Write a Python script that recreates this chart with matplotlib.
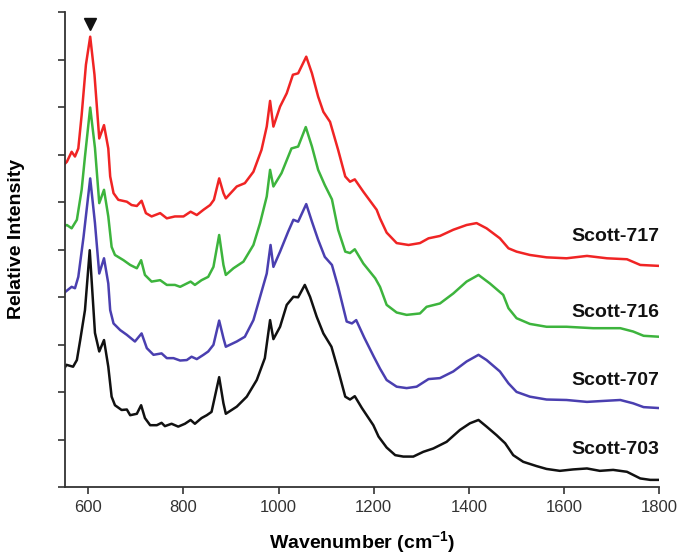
import matplotlib
matplotlib.use("Agg")
import matplotlib.pyplot as plt

plt.rcParams['font.family'] = ['Liberation Sans', 'DejaVu Sans']
plt.rcParams['mathtext.fontset'] = 'custom'
plt.rcParams['mathtext.rm'] = 'Liberation Sans'
plt.rcParams['mathtext.bf'] = 'Liberation Sans:bold'

# ---- data ----
wn_703 = [550, 554, 568, 576, 583, 593, 603, 614, 623, 633, 642, 649, 656, 670, 681, 688, 702, 711,
          719, 730, 744, 754, 761, 775, 789, 803, 815, 824, 838, 849, 859, 875, 884, 889, 912, 933,
          954, 971, 982, 989, 1003, 1017, 1031, 1041, 1055, 1066, 1080, 1094, 1111, 1125, 1140,
          1150, 1160, 1175, 1199, 1210, 1227, 1245, 1262, 1283, 1304, 1325, 1353, 1381, 1402, 1420,
          1437, 1458, 1476, 1493, 1514, 1542, 1563, 1591, 1619, 1648, 1675, 1703, 1732, 1760, 1781, 1800]
int_703 = [2.51, 2.58, 2.54, 2.68, 3.10, 3.73, 4.99, 3.25, 2.86, 3.10, 2.54, 1.91, 1.73, 1.63, 1.64,
           1.52, 1.55, 1.73, 1.46, 1.31, 1.31, 1.36, 1.29, 1.34, 1.28, 1.34, 1.42, 1.34, 1.46, 1.52,
           1.59, 2.32, 1.77, 1.55, 1.70, 1.91, 2.26, 2.72, 3.52, 3.12, 3.38, 3.84, 4.01, 4.00, 4.26,
           4.01, 3.59, 3.24, 2.96, 2.47, 1.91, 1.85, 1.92, 1.67, 1.31, 1.07, 0.84, 0.68, 0.65, 0.65,
           0.75, 0.82, 0.96, 1.21, 1.35, 1.42, 1.28, 1.10, 0.93, 0.68, 0.54, 0.45, 0.39, 0.35, 0.38,
           0.40, 0.35, 0.37, 0.33, 0.19, 0.16, 0.16]

wn_707 = [550, 565, 572, 579, 590, 604, 614, 623, 633, 642, 646, 653, 667, 681, 698, 712, 723, 737,
          754, 765, 779, 793, 807, 817, 828, 842, 852, 863, 875, 884, 889, 912, 929, 947, 961, 975,
          983, 989, 1003, 1020, 1031, 1041, 1058, 1070, 1083, 1097, 1112, 1125, 1143, 1154, 1163,
          1180, 1200, 1213, 1227, 1248, 1269, 1290, 1315, 1339, 1367, 1395, 1420, 1437, 1465, 1483,
          1500, 1528, 1563, 1605, 1648, 1682, 1718, 1745, 1767, 1800]
int_707 = [4.10, 4.22, 4.19, 4.43, 5.27, 6.50, 5.56, 4.50, 4.82, 4.29, 3.73, 3.45, 3.31, 3.21, 3.07,
           3.24, 2.93, 2.79, 2.82, 2.72, 2.72, 2.67, 2.68, 2.75, 2.70, 2.79, 2.86, 3.00, 3.51, 3.14,
           2.96, 3.07, 3.17, 3.52, 4.01, 4.50, 5.10, 4.64, 4.96, 5.38, 5.63, 5.59, 5.96, 5.59, 5.21,
           4.85, 4.68, 4.22, 3.49, 3.45, 3.52, 3.15, 2.75, 2.50, 2.26, 2.12, 2.09, 2.12, 2.28, 2.30,
           2.44, 2.65, 2.79, 2.68, 2.44, 2.19, 2.01, 1.91, 1.85, 1.84, 1.80, 1.82, 1.84, 1.77, 1.69, 1.67]

wn_716 = [550, 555, 565, 576, 586, 593, 604, 614, 623, 633, 642, 649, 656, 674, 688, 702, 711, 719,
          733, 751, 765, 782, 793, 807, 815, 824, 838, 852, 863, 875, 884, 889, 905, 926, 947, 961,
          975, 982, 989, 1006, 1027, 1041, 1057, 1070, 1083, 1097, 1112, 1125, 1140, 1150, 1160,
          1178, 1203, 1213, 1227, 1248, 1269, 1297, 1311, 1339, 1367, 1395, 1420, 1444, 1472, 1483,
          1500, 1528, 1563, 1605, 1661, 1718, 1745, 1767, 1800]
int_716 = [5.50, 5.52, 5.45, 5.63, 6.26, 6.96, 7.99, 7.14, 5.98, 6.26, 5.70, 5.06, 4.89, 4.78, 4.68,
           4.61, 4.78, 4.47, 4.33, 4.36, 4.26, 4.26, 4.22, 4.29, 4.33, 4.26, 4.36, 4.43, 4.64, 5.31,
           4.68, 4.47, 4.61, 4.75, 5.10, 5.56, 6.12, 6.68, 6.33, 6.61, 7.13, 7.17, 7.58, 7.17, 6.68,
           6.36, 6.06, 5.42, 4.96, 4.93, 5.01, 4.71, 4.40, 4.22, 3.84, 3.68, 3.63, 3.66, 3.80, 3.87,
           4.08, 4.33, 4.47, 4.29, 4.05, 3.77, 3.56, 3.44, 3.38, 3.38, 3.35, 3.35, 3.28, 3.19, 3.17]

wn_717 = [550, 555, 565, 572, 579, 586, 595, 604, 613, 623, 633, 642, 646, 653, 663, 681, 691, 702,
          712, 721, 733, 751, 765, 782, 800, 815, 828, 842, 856, 864, 875, 884, 889, 912, 929, 947,
          964, 975, 982, 989, 1003, 1017, 1030, 1041, 1058, 1070, 1083, 1094, 1108, 1125, 1140, 1150,
          1160, 1178, 1206, 1213, 1227, 1248, 1273, 1297, 1315, 1339, 1367, 1395, 1416, 1437, 1465,
          1483, 1500, 1528, 1563, 1605, 1648, 1690, 1732, 1760, 1800]
int_717 = [6.80, 6.85, 7.06, 6.96, 7.13, 7.83, 8.89, 9.48, 8.68, 7.34, 7.62, 7.13, 6.54, 6.19, 6.05,
           6.01, 5.94, 5.92, 6.03, 5.77, 5.70, 5.77, 5.66, 5.70, 5.70, 5.80, 5.73, 5.84, 5.94, 6.05,
           6.50, 6.19, 6.08, 6.33, 6.40, 6.64, 7.10, 7.59, 8.13, 7.59, 8.01, 8.29, 8.68, 8.71, 9.06,
           8.71, 8.22, 7.90, 7.69, 7.10, 6.54, 6.43, 6.48, 6.22, 5.84, 5.66, 5.36, 5.14, 5.10, 5.14,
           5.24, 5.29, 5.42, 5.52, 5.56, 5.45, 5.24, 5.03, 4.96, 4.89, 4.84, 4.82, 4.87, 4.82, 4.80,
           4.68, 4.66]

series_names = ["Scott-717", "Scott-716", "Scott-707", "Scott-703"]
label_y = [5.27, 3.69, 2.26, 0.79]
marker_pos = (603, 9.75)

x_ticks = [600, 800, 1000, 1200, 1400, 1600, 1800]
y_ticks = list(range(0, 11))

# ---- figure ----
fig = plt.figure(figsize=(6.87, 5.57), dpi=100)
ax = fig.add_axes([0.0939, 0.1248, 0.8658, 0.8537])

colors = ["#f02424", "#3db43d", "#4a3fb0", "#111111"]
data = [(wn_717, int_717), (wn_716, int_716), (wn_707, int_707), (wn_703, int_703)]
for (x, y), c in zip(data, colors):
    ax.plot(x, y, color=c, lw=1.8, solid_joinstyle='round')

for name, ly in zip(series_names, label_y):
    ax.text(1800, ly, name, ha='right', va='center', fontsize=14, fontweight='bold', color='#111111')

ax.plot([marker_pos[0]], [marker_pos[1]], marker='v', color='#111111', ms=8, clip_on=False)

ax.set_xlim(550, 1800)
ax.set_ylim(0, 10)
ax.set_xticks(x_ticks)
ax.set_xticklabels([str(t) for t in x_ticks])
ax.set_yticks(y_ticks)
ax.set_yticklabels([])
for s in ['top', 'right']:
    ax.spines[s].set_visible(False)
for s in ['left', 'bottom']:
    ax.spines[s].set_color('#333333')
    ax.spines[s].set_linewidth(1.3)
ax.tick_params(axis='both', direction='out', length=5, width=1.2, color='#333333',
               labelsize=12, labelcolor='#333333', pad=4)

fig.text(0.527, 0.0251, r'Wavenumber (cm$^{\mathbf{-1}}$)', fontsize=14, fontweight='bold',
         ha='center', va='center')
fig.text(0.0247, 0.571, 'Relative Intensity', fontsize=14, fontweight='bold',
         ha='center', va='center', rotation=90)

fig.savefig('out.png', dpi=100)
